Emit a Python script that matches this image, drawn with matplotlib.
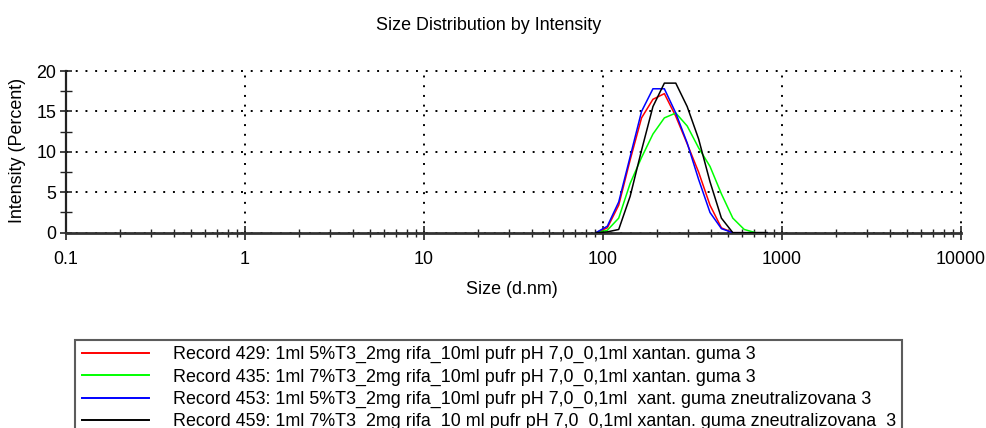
import matplotlib
matplotlib.use("Agg")
import matplotlib.pyplot as plt
import numpy as np
from matplotlib.ticker import FixedLocator, NullFormatter

plt.rcParams['font.family'] = ['Liberation Sans', 'DejaVu Sans']

# Size bins (d.nm)
sizes = [91.28, 105.7, 122.4, 141.8, 164.2, 190.1, 220.2, 255.0, 295.3,
         342.0, 396.1, 458.7, 531.2, 615.1, 712.4, 825.0]

rec429 = [0.0, 0.6, 3.4, 9.0, 14.2, 16.5, 17.2, 14.4, 11.0, 7.5, 3.4, 0.6, 0.0, 0.0, 0.0, 0.0]
rec435 = [0.0, 0.3, 1.8, 6.1, 9.3, 12.2, 14.2, 14.8, 13.2, 10.5, 8.2, 4.8, 1.8, 0.4, 0.0, 0.0]
rec453 = [0.0, 0.8, 3.8, 9.4, 15.0, 17.8, 17.8, 14.8, 11.1, 6.6, 2.5, 0.5, 0.0, 0.0, 0.0, 0.0]
rec459 = [0.0, 0.1, 0.4, 4.5, 10.2, 15.6, 18.5, 18.5, 15.6, 11.6, 6.3, 1.8, 0.0, 0.0, 0.0, 0.0]

labels = [
    "Record 429: 1ml 5%T3_2mg rifa_10ml pufr pH 7,0_0,1ml xantan. guma 3",
    "Record 435: 1ml 7%T3_2mg rifa_10ml pufr pH 7,0_0,1ml xantan. guma 3",
    "Record 453: 1ml 5%T3_2mg rifa_10ml pufr pH 7,0_0,1ml  xant. guma zneutralizovana 3",
    "Record 459: 1ml 7%T3_2mg rifa_10 ml pufr pH 7,0_0,1ml xantan. guma zneutralizovana  3",
]
colors = ['#FF0000', '#00FF00', '#0000FF', '#000000']

xticks = [0.1, 1, 10, 100, 1000, 10000]
xticklabels = ['0.1', '1', '10', '100', '1000', '10000']
yticks = [0, 5, 10, 15, 20]

W, H = 987, 428
fig = plt.figure(figsize=(W / 100, H / 100), dpi=100)
ax = fig.add_axes([66 / W, 1 - 232.7 / H, (961 - 66) / W, (232.7 - 71) / H])

for vals, c, lab in zip([rec429, rec435, rec453, rec459], colors, labels):
    ax.plot(sizes, vals, color=c, lw=1.1, label=lab, zorder=3)

ax.set_xscale('log')
ax.set_xlim(0.1, 10000)
ax.set_ylim(0, 20)
ax.xaxis.set_major_locator(FixedLocator(xticks))
ax.set_xticklabels(xticklabels)
minor = [m * 10.0 ** e for e in range(-1, 4) for m in range(2, 10)]
ax.xaxis.set_minor_locator(FixedLocator(minor))
ax.xaxis.set_minor_formatter(NullFormatter())
ax.set_yticks(yticks)
ax.yaxis.set_minor_locator(FixedLocator([2.5, 7.5, 12.5, 17.5]))

fs = 12.9
ax.tick_params(axis='x', which='major', direction='inout', length=10, width=1.2,
               labelsize=fs, pad=8, color='#222222')
ax.tick_params(axis='x', which='minor', direction='inout', length=6, width=1.0, color='#222222')
ax.tick_params(axis='y', which='major', direction='inout', length=8, width=1.2,
               labelsize=fs, pad=3, color='#222222')
ax.tick_params(axis='y', which='minor', direction='inout', length=8, width=1.0, color='#222222')

for s in ['top', 'right']:
    ax.spines[s].set_visible(False)
ax.spines['left'].set_linewidth(1.6)
ax.spines['bottom'].set_linewidth(2.0)
ax.spines['left'].set_color('#222222')
ax.spines['bottom'].set_color('#333333')

ax.grid(True, which='major', color='black', linestyle=(0, (1, 4)), linewidth=1.4)
ax.set_axisbelow(True)
for gl in ax.get_xgridlines() + ax.get_ygridlines():
    gl.set_clip_on(False)

fig.text(489 / W, 1 - 26 / H, 'Size Distribution by Intensity', ha='center', va='center', fontsize=fs)
fig.text(512 / W, 1 - 290 / H, 'Size (d.nm)', ha='center', va='center', fontsize=fs)
fig.text(18 / W, 1 - 150 / H, 'Intensity (Percent)', ha='center', va='center', rotation=90, fontsize=fs)

fpx = fs * 100 / 72
leg = ax.legend(loc='upper left', bbox_to_anchor=(75 / W, 1 - 339.5 / H), bbox_transform=fig.transFigure,
                borderaxespad=0, fontsize=fs, frameon=True, fancybox=False,
                handlelength=67 / fpx, handletextpad=24 / fpx, borderpad=0.37,
                labelspacing=0.29, edgecolor='#333333')
leg.get_frame().set_linewidth(1.5)
for l in leg.get_lines():
    l.set_linewidth(1.4)

fig.savefig('out.png', dpi=100)
